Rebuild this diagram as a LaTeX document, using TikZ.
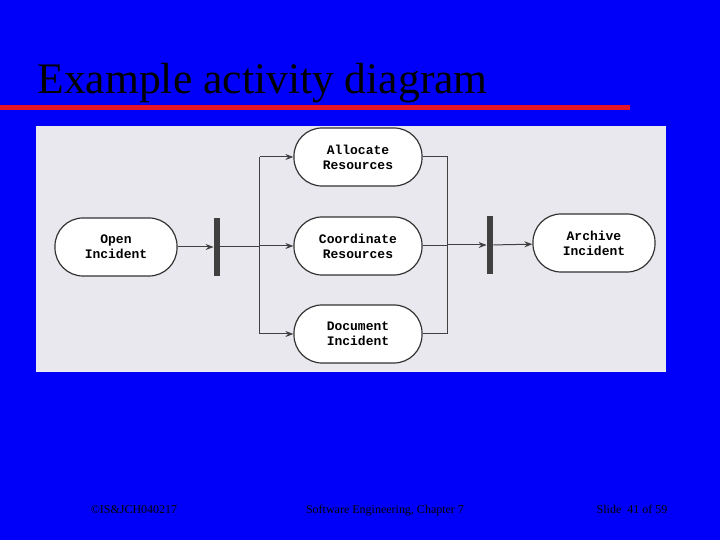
\documentclass[tikz,border=0pt]{standalone}
\usepackage{fontspec}
\setmainfont{Liberation Serif}
\newfontfamily\mono{Liberation Mono}
\usetikzlibrary{arrows.meta}
\definecolor{slideblue}{RGB}{0,0,250}
\definecolor{panel}{RGB}{232,232,238}
\definecolor{titlered}{RGB}{230,20,40}
\tikzset{
  act/.style={draw=black!80,line width=0.6pt,rounded corners=14pt,fill=white,minimum width=61pt,minimum height=29pt,align=center,font=\mono\bfseries\fontsize{6.5}{7.5}\selectfont},
  bar/.style={fill=black!75,draw=none,minimum width=3pt,minimum height=29pt,inner sep=0pt},
  con/.style={draw=black!75,line width=0.5pt},
  arr/.style={con,-{Stealth[length=4pt,width=3pt]}},
  foot/.style={font=\fontsize{6}{7}\selectfont,text=black,anchor=base}
}
\begin{document}
\begin{tikzpicture}[x=0.5pt,y=-0.5pt]
\useasboundingbox (0,0) rectangle (720,540);
\fill[slideblue] (0,0) rectangle (720,540);
\node[anchor=base west,inner sep=0pt,text=black,font=\fontsize{21.8}{24}\selectfont] (title) at (37,94) {Example activity diagram};
\fill[titlered] (0,105) rectangle (630,110);
\fill[panel] (36,126) rectangle (666,372);
\node[act] (open) at (116,247) {Open\\Incident};
\node[act,minimum width=64pt] (alloc) at (358,157) {Allocate\\Resources};
\node[act,minimum width=64pt] (coord) at (358,246) {Coordinate\\Resources};
\node[act,minimum width=64pt] (doc) at (358,334) {Document\\Incident};
\node[act] (arch) at (594,243) {Archive\\Incident};
\node[bar] (fork) at (217,247) {};
\node[bar] (join) at (490,245) {};
\coordinate (ft) at (260,157);
\coordinate (fb) at (260,334);
\coordinate (jt) at (448,157);
\coordinate (jb) at (448,334);
\draw[arr] (open) -- (fork);
\draw[con] (fork) -- (260,247);
\draw[con] (ft) -- (fb);
\draw[arr] (ft) -- (alloc);
\draw[arr] (260,246) -- (coord);
\draw[arr] (fb) -- (doc);
\draw[con] (alloc) -- (jt);
\draw[con] (doc) -- (jb);
\draw[con] (jt) -- (jb);
\draw[con] (coord) -- (448,246);
\draw[arr] (448,245) -- (join);
\draw[arr] (join) -- (arch);
\node[foot] (f1) at (134,514) {©IS\&JCH040217};
\node[foot] (f2) at (385,514) {Software Engineering, Chapter 7};
\node[foot] (f3) at (632,514) {Slide\ \ 41 of 59};
\end{tikzpicture}
\end{document}
